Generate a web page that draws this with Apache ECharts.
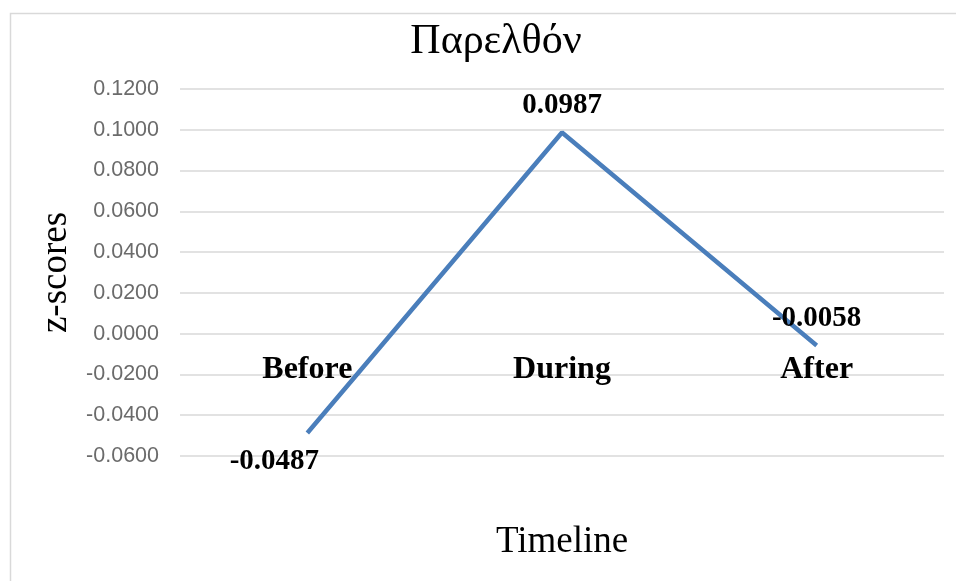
<!DOCTYPE html>
<html>
<head>
<meta charset="utf-8">
<script src="https://cdn.jsdelivr.net/npm/echarts@6/dist/echarts.min.js"></script>
<style>
  html, body { margin: 0; padding: 0; background: #fff; }
  #chart { width: 956px; height: 581px; }
</style>
</head>
<body>
<div id="chart"></div>
<script>
// Mean z-scores across the three periods
const categories = ['Before', 'During', 'After'];
const zScores = [-0.0487, 0.0987, -0.0058];
const yMin = -0.06;
const yMax = 0.12;
const yStep = 0.02;

const serif = '"Liberation Serif", "Times New Roman", serif';

const gridTop = 89;
const gridBottom = 125;
const chartHeight = 581;
// category axis sits on the zero line of the value axis
const plotHeight = chartHeight - gridTop - gridBottom;
const zeroOffset = -plotHeight * (0 - yMin) / (yMax - yMin);

const chart = echarts.init(document.getElementById('chart'));

chart.setOption({
  backgroundColor: '#ffffff',
  animation: false,
  title: {
    text: 'Παρελθόν',
    left: 491,
    top: 16,
    textAlign: 'center',
    textStyle: { fontFamily: serif, fontSize: 42, fontWeight: 'normal', color: '#000' }
  },
  graphic: [
    {
      type: 'rect',
      shape: { x: 10.5, y: 13.5, width: 960, height: 600 },
      style: { fill: 'none', stroke: '#d9d9d9', lineWidth: 1.5 },
      silent: true
    },
    {
      type: 'text',
      left: 496,
      top: 524,
      style: { text: 'Timeline', fontFamily: serif, fontSize: 37, fill: '#000' }
    }
  ],
  grid: { left: 180, right: 12, top: gridTop, bottom: gridBottom },
  xAxis: {
    type: 'category',
    data: categories,
    boundaryGap: true,
    position: 'bottom',
    offset: zeroOffset,
    axisLine: { show: false, onZero: false },
    axisTick: { show: false },
    axisLabel: {
      margin: 20,
      fontFamily: serif,
      fontSize: 32,
      fontWeight: 'bold',
      color: '#000'
    }
  },
  yAxis: {
    type: 'value',
    min: yMin,
    max: yMax,
    interval: yStep,
    name: 'z-scores',
    nameLocation: 'middle',
    nameGap: 100,
    nameRotate: 90,
    nameTextStyle: { fontFamily: serif, fontSize: 37, color: '#000' },
    axisLine: { show: false },
    axisTick: { show: false },
    splitLine: { lineStyle: { color: '#d9d9d9', width: 1.5 } },
    axisLabel: {
      margin: 21,
      fontFamily: '"Liberation Sans", Arial, sans-serif',
      fontSize: 21.5,
      color: '#6b6b6b',
      formatter: v => v.toFixed(4)
    }
  },
  series: [{
    type: 'line',
    data: zScores.map((v, i) => {
      const item = { value: v };
      if (i === 0) item.label = { position: 'bottom', offset: [-33, 0], distance: 14 };
      return item;
    }),
    symbol: 'circle',
    symbolSize: 0,
    showSymbol: true,
    itemStyle: { color: 'transparent' },
    lineStyle: { color: '#4a7ebb', width: 4.5 },
    label: {
      show: true,
      position: 'top',
      distance: 12,
      fontFamily: serif,
      fontSize: 29,
      fontWeight: 'bold',
      color: '#000',
      formatter: p => p.value.toFixed(4)
    }
  }]
});
</script>
</body>
</html>
